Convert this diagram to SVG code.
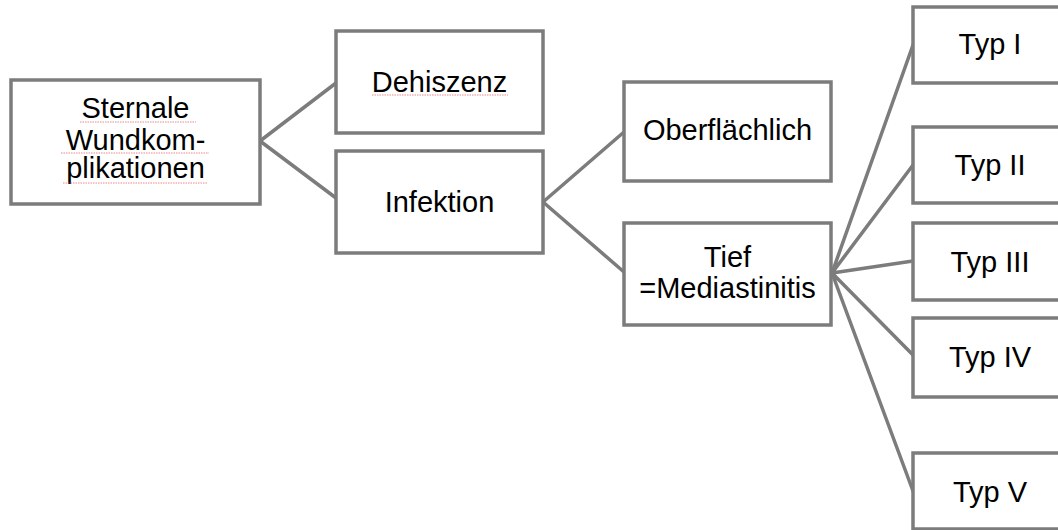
<svg xmlns="http://www.w3.org/2000/svg" width="1058" height="530" viewBox="0 0 1058 530">
  <style>
    .box { fill: #ffffff; stroke: #7c7c7c; stroke-width: 3.5; }
    .edge { fill: none; stroke: #7c7c7c; stroke-width: 3.5; stroke-linecap: round; }
    .lbl { font-family: "Liberation Sans", Arial, sans-serif; font-size: 29px; fill: #000000; text-anchor: middle; }
    .spell { fill: none; stroke: #e05a5a; stroke-width: 1; stroke-dasharray: 1.5 1; opacity: 0.7; }
  </style>

  <!-- connectors -->
  <g id="connectors">
    <path class="edge" d="M260 141 L336 83 M260 141 L336 198"/>
    <path class="edge" d="M543 202 L624 132 M543 202 L624 272"/>
    <path class="edge" d="M832 273 L913 45 M832 273 L913 165 M832 273 L913 261 M832 273 L913 355 M832 273 L913 491"/>
  </g>

  <g id="node-root">
    <rect class="box" x="11" y="80" width="249" height="124"/>
    <text class="lbl" x="135.5" y="118">Sternale</text>
    <text class="lbl" x="135.5" y="150">Wundkom-</text>
    <text class="lbl" x="135.5" y="178">plikationen</text>
    <path class="spell" d="M80 122 H196 M61 153 H209 M63 183 H207"/>
  </g>

  <g id="node-dehiszenz">
    <rect class="box" x="336" y="31" width="207" height="102"/>
    <text class="lbl" x="439.5" y="92">Dehiszenz</text>
    <path class="spell" d="M372 95 H508"/>
  </g>

  <g id="node-infektion">
    <rect class="box" x="336" y="151" width="207" height="102"/>
    <text class="lbl" x="439.5" y="212">Infektion</text>
  </g>

  <g id="node-oberflaechlich">
    <rect class="box" x="624" y="82" width="207" height="99"/>
    <text class="lbl" x="727.5" y="140">Oberflächlich</text>
  </g>

  <g id="node-tief">
    <rect class="box" x="624" y="223" width="207" height="102"/>
    <text class="lbl" x="727.5" y="267">Tief</text>
    <text class="lbl" x="727.5" y="298">=Mediastinitis</text>
  </g>

  <g id="node-typ1">
    <rect class="box" x="913" y="7" width="154" height="76"/>
    <text class="lbl" x="990" y="54">Typ I</text>
  </g>

  <g id="node-typ2">
    <rect class="box" x="913" y="127" width="154" height="76"/>
    <text class="lbl" x="990" y="175">Typ II</text>
  </g>

  <g id="node-typ3">
    <rect class="box" x="913" y="223" width="154" height="77"/>
    <text class="lbl" x="990" y="272">Typ III</text>
  </g>

  <g id="node-typ4">
    <rect class="box" x="913" y="318" width="154" height="79"/>
    <text class="lbl" x="990" y="367">Typ IV</text>
  </g>

  <g id="node-typ5">
    <rect class="box" x="913" y="453" width="154" height="76"/>
    <text class="lbl" x="990" y="502">Typ V</text>
  </g>
</svg>
